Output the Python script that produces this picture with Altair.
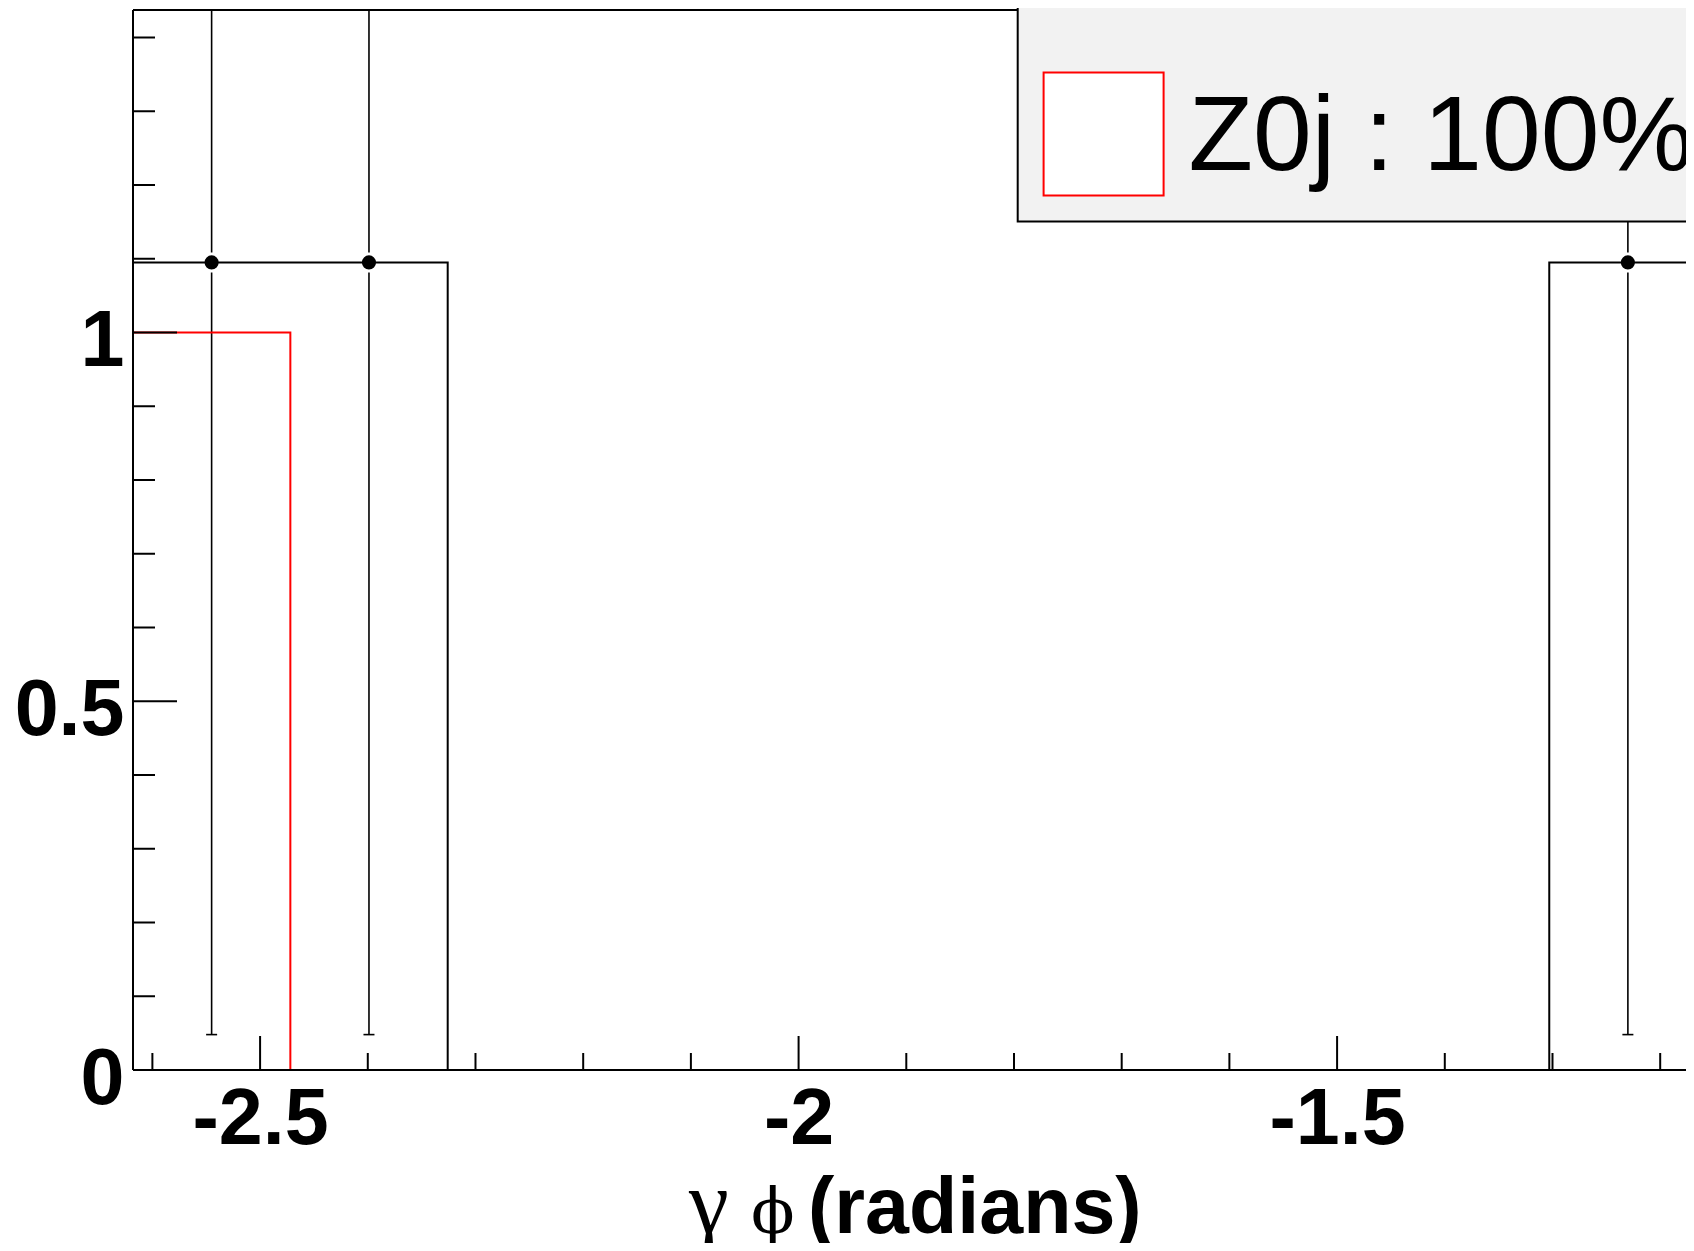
import altair as alt
import pandas as pd

# ---------------- data ----------------
# bin edges (gamma phi, radians) of the visible part of the histograms
bin_edges = [-2.6180, -2.4719, -2.3258, -2.1797, -2.0336, -1.8875,
             -1.7414, -1.5953, -1.4492, -1.3030, -1.1569]
# black histogram (data) contents per bin
data_counts = [1.095, 1.095, 0, 0, 0, 0, 0, 0, 0, 1.095]
# red histogram (Z0j) contents per bin
z0j_counts = [1.0, 0, 0, 0, 0, 0, 0, 0, 0, 0]

# data points with error bars (non-empty bins only)
point_x = [-2.5450, -2.3989, -1.2300]
point_y = [1.095, 1.095, 1.095]
point_err = [1.047, 1.047, 1.047]

# axis ticks
x_major_ticks = [-2.5, -2.0, -1.5]
x_minor_ticks = [-2.6, -2.4, -2.3, -2.2, -2.1, -1.9, -1.8, -1.7, -1.6,
                 -1.4, -1.3, -1.2]
y_major_ticks = [0.0, 0.5, 1.0]
y_minor_ticks = [0.1, 0.2, 0.3, 0.4, 0.6, 0.7, 0.8, 0.9, 1.1, 1.2, 1.3, 1.4]

legend_labels = ["Z0j : 100%"]
title_greek = ["γ", "ϕ"]
title_text = ["(radians)"]

# ---------------- tables ----------------
def step_table(edges, counts):
    xs = [edges[0]] + list(edges)
    ys = [0.0] + list(counts) + [counts[-1]]
    return pd.DataFrame({"x": xs, "y": ys, "i": list(range(len(xs)))})

black_df = step_table(bin_edges, data_counts)
red_df = step_table(bin_edges, z0j_counts)
pts_df = pd.DataFrame({
    "x": point_x,
    "y": point_y,
    "lo": [v - e for v, e in zip(point_y, point_err)],
    "hi": [v + e for v, e in zip(point_y, point_err)],
})
xmaj_df = pd.DataFrame({"v": x_major_ticks})
xmin_df = pd.DataFrame({"v": x_minor_ticks})
ymaj_df = pd.DataFrame({"v": y_major_ticks})
ymin_df = pd.DataFrame({"v": y_minor_ticks})
leg_df = pd.DataFrame({"label": legend_labels})
g1_df = pd.DataFrame({"t": [title_greek[0]]})
g2_df = pd.DataFrame({"t": [title_greek[1]]})
tt_df = pd.DataFrame({"t": title_text})

# ---------------- layout ----------------
W, H = 1553, 1060
xs = alt.Scale(domain=[-2.618, -1.17604], nice=False, zero=False)
ys = alt.Scale(domain=[0, 1.43729], nice=False, zero=False)

LABEL_FONT = "Liberation Sans"

x_axis = alt.Axis(values=x_major_ticks, labelExpr="toString(datum.value)",
                  labelFont=LABEL_FONT, labelFontWeight="bold", labelFontSize=79,
                  labelColor="black", ticks=False, tickSize=0, domain=False,
                  grid=False, labelPadding=11, title=None, labelFlush=False,
                  labelOverlap=False, labelBound=False)
y_axis = alt.Axis(values=y_major_ticks, labelExpr="toString(datum.value)",
                  labelFont=LABEL_FONT, labelFontWeight="bold", labelFontSize=79,
                  labelColor="black", ticks=False, tickSize=0, domain=False,
                  grid=False, labelPadding=9, labelOffset=9, title=None,
                  labelFlush=False, labelOverlap=False, labelBound=False)

def X(field):
    return alt.X(field, type="quantitative", scale=xs, axis=x_axis)

def Y(field):
    return alt.Y(field, type="quantitative", scale=ys, axis=y_axis)

black_hist = alt.Chart(black_df).mark_line(
    interpolate="step-after", color="black", strokeWidth=2, clip=True
).encode(x=X("x"), y=Y("y"), order=alt.Order("i:Q"))

red_hist = alt.Chart(red_df).mark_line(
    interpolate="step-after", color="#ff0000", strokeWidth=2, clip=True
).encode(x=X("x"), y=Y("y"), order=alt.Order("i:Q"))

err_up = alt.Chart(pts_df).mark_rule(
    color="black", strokeWidth=1.6, yOffset=-10, clip=True
).encode(x=X("x"), y=Y("y"), y2="hi")

err_lo = alt.Chart(pts_df).mark_rule(
    color="black", strokeWidth=1.6, y2Offset=10, clip=True
).encode(x=X("x"), y=Y("lo"), y2="y")

err_cap = alt.Chart(pts_df).mark_tick(
    orient="horizontal", size=11, thickness=1.6, color="black", opacity=1
).encode(x=X("x"), y=Y("lo"))

markers = alt.Chart(pts_df).mark_point(
    filled=True, shape="circle", size=200, color="black", opacity=1
).encode(x=X("x"), y=Y("y"))

# inward ticks (ROOT style)
xmaj = alt.Chart(xmaj_df).mark_rule(color="black", strokeWidth=2).encode(
    x=X("v"), y=alt.value(H), y2=alt.value(H - 34))
xmin = alt.Chart(xmin_df).mark_rule(color="black", strokeWidth=2).encode(
    x=X("v"), y=alt.value(H), y2=alt.value(H - 17))
ymaj = alt.Chart(ymaj_df).mark_rule(color="black", strokeWidth=2).encode(
    y=Y("v"), x=alt.value(0), x2=alt.value(44))
ymin = alt.Chart(ymin_df).mark_rule(color="black", strokeWidth=2).encode(
    y=Y("v"), x=alt.value(0), x2=alt.value(22))

# frame (left, bottom, top)
frame_left = alt.Chart(leg_df).mark_rule(color="black", strokeWidth=2).encode(
    x=alt.value(0), y=alt.value(0), y2=alt.value(H))
frame_bottom = alt.Chart(leg_df).mark_rule(color="black", strokeWidth=2).encode(
    x=alt.value(0), x2=alt.value(W + 5), y=alt.value(H))
frame_top = alt.Chart(leg_df).mark_rule(color="black", strokeWidth=2).encode(
    x=alt.value(0), x2=alt.value(W + 5), y=alt.value(0))

# legend box
leg_box = alt.Chart(leg_df).mark_rect(
    fill="#f2f2f2", stroke="black", strokeWidth=2
).encode(x=alt.value(884.7), x2=alt.value(W + 40),
         y=alt.value(-30), y2=alt.value(211.5))
leg_swatch = alt.Chart(leg_df).mark_rect(
    fill="white", stroke="#ff0000", strokeWidth=2
).encode(x=alt.value(910.6), x2=alt.value(1030.6),
         y=alt.value(62.4), y2=alt.value(185.6))
leg_text = alt.Chart(leg_df).mark_text(
    align="left", baseline="alphabetic", font=LABEL_FONT, fontSize=105.6,
    color="black"
).encode(x=alt.value(1055.6), y=alt.value(159.6), text="label:N")

# x-axis title: greek letters in a serif face, the rest in bold sans
t_gamma = alt.Chart(g1_df).mark_text(
    align="left", baseline="alphabetic", font="Liberation Serif", fontSize=90,
    color="black"
).encode(x=alt.value(556), y=alt.value(1223), text="t:N")
t_phi = alt.Chart(g2_df).mark_text(
    align="left", baseline="alphabetic", font="DejaVu Serif", fontSize=64,
    color="black"
).encode(x=alt.value(618), y=alt.value(1223), text="t:N")
t_rad = alt.Chart(tt_df).mark_text(
    align="left", baseline="alphabetic", font=LABEL_FONT, fontWeight="bold",
    fontSize=79, color="black"
).encode(x=alt.value(675), y=alt.value(1223), text="t:N")

chart = alt.layer(
    frame_top, black_hist, err_up, err_lo, err_cap, markers, red_hist,
    frame_left, frame_bottom, xmaj, xmin, ymaj, ymin,
    leg_box, leg_swatch, leg_text, t_gamma, t_phi, t_rad
).properties(
    width=W, height=H,
    padding={"left": 125, "top": 2, "right": 0, "bottom": 173},
    autosize=alt.AutoSizeParams(type="none"),
    background="white",
).configure_view(stroke=None)

chart.save("out.html", embed_options={"renderer": "svg", "actions": False})
